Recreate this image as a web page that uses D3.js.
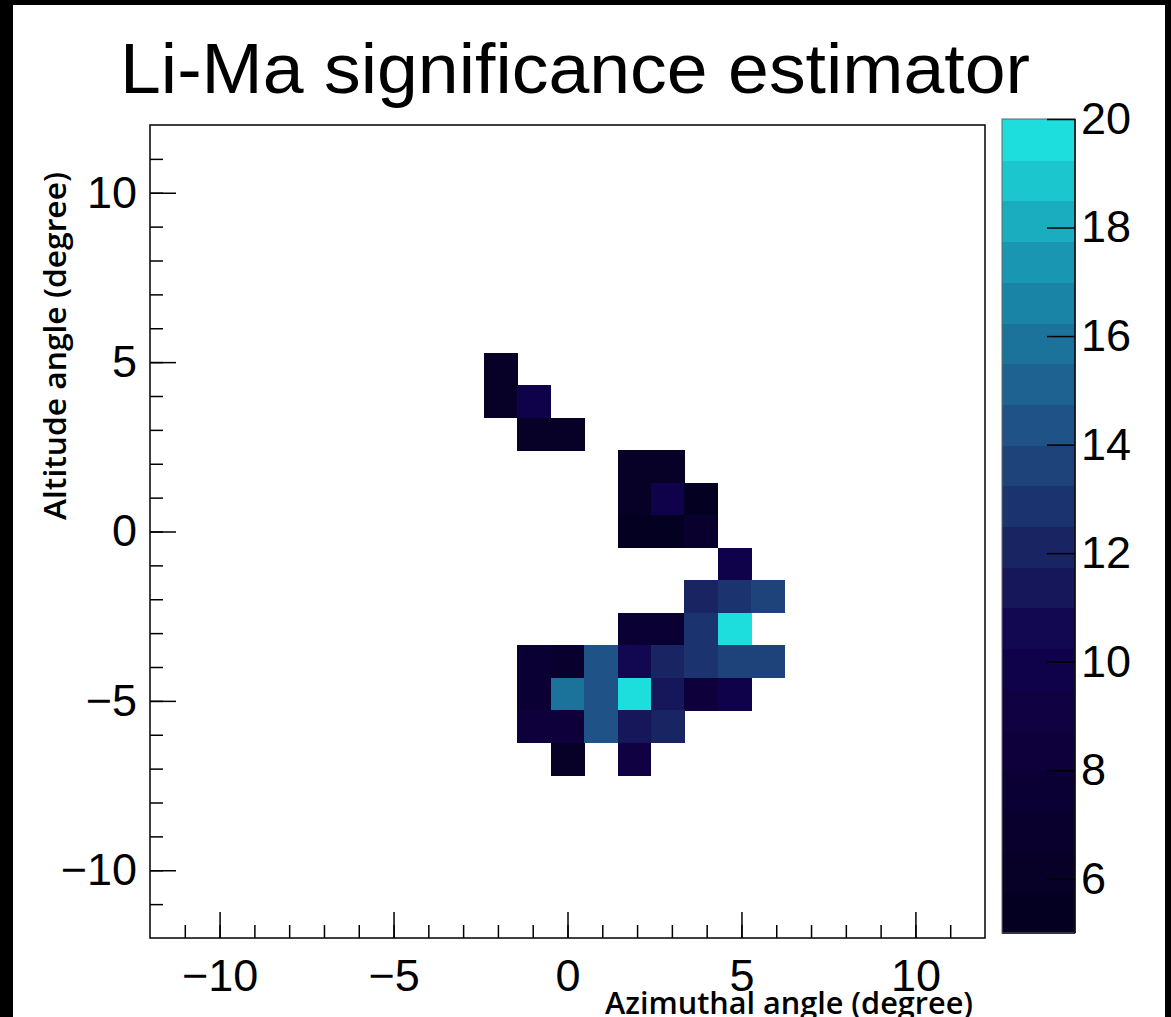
<!DOCTYPE html>
<html>
<head>
<meta charset="utf-8">
<script src="https://cdn.jsdelivr.net/npm/d3@7"></script>
<style>
  body { margin: 0; background: #000; }
  svg { display: block; }
</style>
</head>
<body>
<svg width="1171" height="1017"></svg>
<script>
// Chart texts
const title = "Li-Ma significance estimator";
const xTitle = "Azimuthal angle (degree)";
const yTitle = "Altitude angle (degree)";

// Histogram: 25 x 25 bins over [-12, 12] degrees (bin width 0.96)
const nBins = 25;
const axisRange = [-12, 12];

// Filled bins: centre azimuth, centre altitude, significance
const azimuth = [
  -1.92, -1.92, -0.96, -0.96, 0,
  1.92, 2.88, 1.92, 2.88, 3.84,
  1.92, 2.88, 3.84, 4.8,
  3.84, 4.8, 5.76,
  1.92, 2.88, 3.84, 4.8,
  -0.96, 0, 0.96, 1.92, 2.88, 3.84, 4.8, 5.76,
  -0.96, 0, 0.96, 1.92, 2.88, 3.84, 4.8,
  -0.96, 0, 0.96, 1.92, 2.88,
  0, 1.92
];
const altitude = [
  4.8, 3.84, 3.84, 2.88, 2.88,
  1.92, 1.92, 0.96, 0.96, 0.96,
  0, 0, 0, -0.96,
  -1.92, -1.92, -1.92,
  -2.88, -2.88, -2.88, -2.88,
  -3.84, -3.84, -3.84, -3.84, -3.84, -3.84, -3.84, -3.84,
  -4.8, -4.8, -4.8, -4.8, -4.8, -4.8, -4.8,
  -5.76, -5.76, -5.76, -5.76, -5.76,
  -6.72, -6.72
];
const significance = [
  6.4, 6.4, 9.9, 6.4, 6.4,
  6.3, 6.3, 6.2, 9.9, 5.6,
  5.4, 5.3, 6.8, 9.8,
  12.0, 12.9, 13.7,
  7.6, 7.9, 13.0, 19.6,
  7.5, 6.6, 14.4, 10.6, 12.2, 13.1, 13.8, 13.8,
  7.9, 15.8, 14.4, 20.0, 11.3, 8.1, 9.8,
  8.4, 8.4, 14.4, 11.2, 12.3,
  6.2, 9.2
];

// Tick values
const majorTicks = [-10, -5, 0, 5, 10];
const minorTicks = d3.range(-11, 12);
const zRange = [5, 20];
const zTicks = [6, 8, 10, 12, 14, 16, 18, 20];
const nContours = 20;

// DeepSea palette stops
const paletteStops = [
  [0, 0, 28], [9, 0, 42], [13, 0, 59], [17, 2, 78], [24, 37, 98],
  [32, 74, 129], [27, 113, 154], [25, 160, 184], [29, 221, 221]
];

const binWidth = (axisRange[1] - axisRange[0]) / nBins;
const cells = azimuth.map((a, i) => ({ az: a, alt: altitude[i], v: significance[i] }));

const svg = d3.select("svg");
const numFont = "'Liberation Sans', Arial, Helvetica, sans-serif";
const labelFont = "'Open Sans', 'Noto Sans', sans-serif";

// page: black edges, white canvas
svg.append("rect").attr("width", 1171).attr("height", 1017).attr("fill", "#000");
svg.append("rect").attr("x", 13).attr("y", 5).attr("width", 1152).attr("height", 1012).attr("fill", "#fff");

const frame = { left: 150, right: 985, top: 125, bottom: 938 };

const x = d3.scaleLinear().domain(axisRange).range([frame.left, frame.right]);
const y = d3.scaleLinear().domain(axisRange).range([frame.bottom, frame.top]);

// palette: continuous gradient, sampled into discrete contour bands
const gradient = d3.scaleLinear()
  .domain(paletteStops.map((d, i) => i / (paletteStops.length - 1)))
  .range(paletteStops.map(c => d3.rgb(c[0], c[1], c[2])))
  .interpolate(d3.interpolateRgb);
const bandColors = d3.range(nContours).map(k => {
  const idx = Math.floor((k + 0.99) * 255 / nContours);
  return gradient(Math.min(idx, 254) / 254);
});
const color = d3.scaleQuantize().domain(zRange).range(bandColors);

// cells
svg.append("g")
  .attr("shape-rendering", "crispEdges")
  .selectAll("rect")
  .data(cells)
  .join("rect")
  .attr("x", d => x(d.az - binWidth / 2))
  .attr("y", d => y(d.alt + binWidth / 2))
  .attr("width", d => x(d.az + binWidth / 2) - x(d.az - binWidth / 2) + 0.4)
  .attr("height", d => y(d.alt - binWidth / 2) - y(d.alt + binWidth / 2) + 0.4)
  .attr("fill", d => color(Math.min(d.v, zRange[1] - 1e-6)));

// axes (ticks pointing into the frame)
function styleAxis(g) {
  g.select(".domain").remove();
  g.selectAll("line").attr("stroke", "#000").attr("stroke-width", 1.5);
  g.selectAll("text").attr("fill", "#000").attr("font-family", numFont).attr("font-size", 45);
}
const fmt = d => (d < 0 ? "\u2212" + Math.abs(d) : String(d));

svg.append("g")
  .attr("transform", `translate(0,${frame.bottom})`)
  .call(d3.axisBottom(x).tickValues(minorTicks).tickSize(-13).tickFormat(""))
  .call(styleAxis);
svg.append("g")
  .attr("transform", `translate(0,${frame.bottom})`)
  .call(d3.axisBottom(x).tickValues(majorTicks).tickSize(-26).tickPadding(21).tickFormat(fmt))
  .call(styleAxis);

svg.append("g")
  .attr("transform", `translate(${frame.left},0)`)
  .call(d3.axisLeft(y).tickValues(minorTicks).tickSize(-13).tickFormat(""))
  .call(styleAxis);
svg.append("g")
  .attr("transform", `translate(${frame.left},0)`)
  .call(d3.axisLeft(y).tickValues(majorTicks).tickSize(-26).tickPadding(13).tickFormat(fmt))
  .call(styleAxis);

// frame
svg.append("rect")
  .attr("x", frame.left).attr("y", frame.top)
  .attr("width", frame.right - frame.left).attr("height", frame.bottom - frame.top)
  .attr("fill", "none").attr("stroke", "#000").attr("stroke-width", 1.5);

// colour bar
const bar = { left: 1002, right: 1075, top: 119, bottom: 933 };
const z = d3.scaleLinear().domain(zRange).range([bar.bottom, bar.top]);
const bandStep = (zRange[1] - zRange[0]) / nContours;

svg.append("g")
  .attr("shape-rendering", "crispEdges")
  .selectAll("rect")
  .data(bandColors)
  .join("rect")
  .attr("x", bar.left)
  .attr("y", (d, k) => z(zRange[0] + (k + 1) * bandStep))
  .attr("width", bar.right - bar.left)
  .attr("height", (d, k) => z(zRange[0] + k * bandStep) - z(zRange[0] + (k + 1) * bandStep) + 1)
  .attr("fill", d => d);

svg.append("rect")
  .attr("x", bar.left).attr("y", bar.top)
  .attr("width", bar.right - bar.left).attr("height", bar.bottom - bar.top)
  .attr("fill", "none").attr("stroke", "#666").attr("stroke-width", 1);

svg.append("g")
  .attr("transform", `translate(${bar.right},0)`)
  .call(d3.axisRight(z).tickValues(zTicks).tickSize(-28).tickPadding(6).tickFormat(d3.format("d")))
  .call(styleAxis);
svg.append("line")
  .attr("x1", bar.right).attr("x2", bar.right)
  .attr("y1", bar.top).attr("y2", bar.bottom)
  .attr("stroke", "#000").attr("stroke-width", 1.5);

// titles
svg.append("text")
  .attr("x", 120).attr("y", 93)
  .attr("font-family", numFont).attr("font-size", 70)
  .attr("textLength", 910).attr("lengthAdjust", "spacingAndGlyphs")
  .text(title);

svg.append("text")
  .attr("x", 973).attr("y", 1014)
  .attr("text-anchor", "end")
  .attr("font-family", labelFont).attr("font-weight", 600).attr("font-size", 30)
  .attr("textLength", 368).attr("lengthAdjust", "spacingAndGlyphs")
  .text(xTitle);

svg.append("text")
  .attr("transform", "translate(66,172) rotate(-90)")
  .attr("text-anchor", "end")
  .attr("font-family", labelFont).attr("font-weight", 600).attr("font-size", 30)
  .attr("textLength", 348).attr("lengthAdjust", "spacingAndGlyphs")
  .text(yTitle);
</script>
</body>
</html>
